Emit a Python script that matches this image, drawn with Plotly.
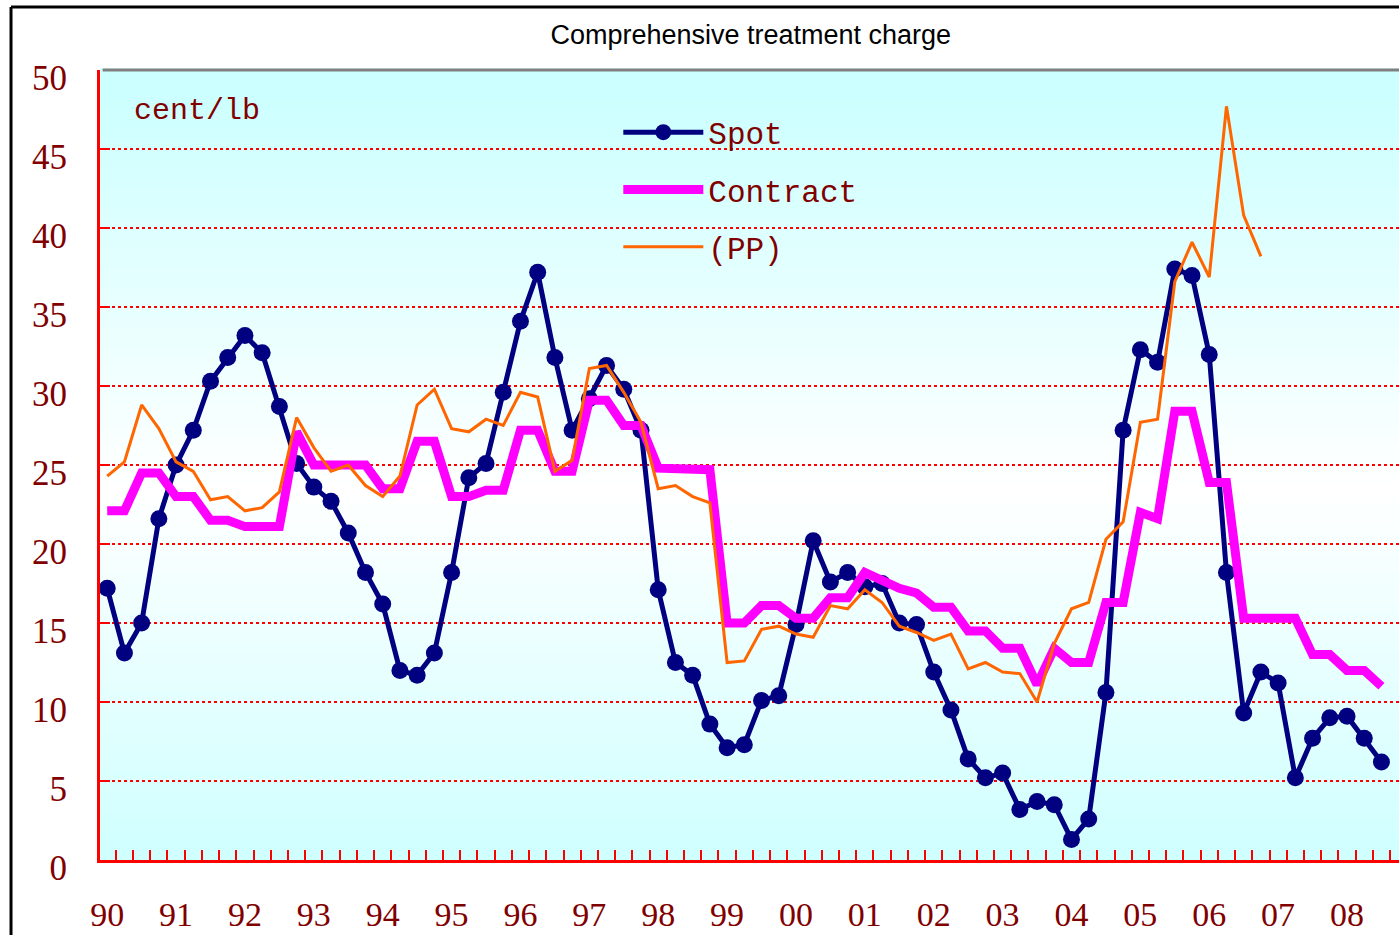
import plotly.graph_objects as go

# quarterly series 1990Q1 .. 2008Q3
years = ["90", "91", "92", "93", "94", "95", "96", "97", "98", "99",
         "00", "01", "02", "03", "04", "05", "06", "07", "08"]

spot = [17.2, 13.1, 15.0, 21.6, 25.0, 27.2, 30.3, 31.8, 33.2, 32.1,
        28.7, 25.1, 23.6, 22.7, 20.7, 18.2, 16.2, 12.0, 11.7, 13.1,
        18.2, 24.2, 25.1, 29.6, 34.1, 37.2, 31.8, 27.2, 29.2, 31.3,
        29.8, 27.2, 17.1, 12.5, 11.7, 8.6, 7.1, 7.3, 10.1, 10.4,
        14.9, 20.2, 17.6, 18.2, 17.3, 17.5, 15.0, 14.9, 11.9, 9.5,
        6.4, 5.2, 5.5, 3.2, 3.7, 3.5, 1.3, 2.6, 10.6, 27.2,
        32.3, 31.5, 37.4, 37.0, 32.0, 18.2, 9.3, 11.9, 11.2, 5.2,
        7.7, 9.0, 9.1, 7.7, 6.2]

contract = [22.1, 22.1, 24.5, 24.5, 23.0, 23.0, 21.5, 21.5, 21.1, 21.1,
            21.1, 27.1, 25.0, 25.0, 25.0, 25.0, 23.5, 23.5, 26.5, 26.5,
            23.0, 23.0, 23.4, 23.4, 27.2, 27.2, 24.6, 24.6, 29.1, 29.1,
            27.5, 27.5, 24.8, 24.8, 24.7, 24.7, 15.0, 15.0, 16.1, 16.1,
            15.3, 15.3, 16.6, 16.6, 18.2, 17.7, 17.2, 16.9, 16.0, 16.0,
            14.5, 14.5, 13.4, 13.4, 11.1, 13.4, 12.5, 12.5, 16.3, 16.3,
            22.0, 21.6, 28.4, 28.4, 23.9, 23.9, 15.3, 15.3, 15.3, 15.3,
            13.0, 13.0, 12.0, 12.0, 11.0]

pp = [24.3, 25.2, 28.8, 27.3, 25.2, 24.6, 22.8, 23.0, 22.1, 22.3,
      23.3, 28.0, 26.1, 24.6, 25.0, 23.7, 23.0, 24.3, 28.8, 29.8,
      27.3, 27.1, 27.9, 27.5, 29.6, 29.3, 24.6, 25.3, 31.1, 31.3,
      29.6, 27.7, 23.5, 23.7, 23.0, 22.6, 12.5, 12.6, 14.6, 14.8,
      14.3, 14.1, 16.1, 15.9, 17.1, 16.3, 14.8, 14.4, 13.9, 14.3,
      12.1, 12.5, 11.9, 11.8, 10.0, 13.7, 15.9, 16.3, 20.3, 21.4,
      27.7, 27.9, 36.6, 39.1, 36.9, 47.7, 40.8, 38.2]

y_ticks = [0, 5, 10, 15, 20, 25, 30, 35, 40, 45, 50]

DARKRED = "#800000"
SERIF = "Liberation Serif"
MONO = "Liberation Mono"

x_spot = list(range(len(spot)))
x_contract = list(range(len(contract)))
x_pp = list(range(len(pp)))
year_pos = [4 * i for i in range(len(years))]
n_q = 4 * len(years)

fig = go.Figure()
fig.add_trace(go.Scatter(
    x=x_spot, y=spot, name="Spot", mode="lines+markers",
    line=dict(color="#000080", width=5),
    marker=dict(color="#000080", size=17),
    legendgroup="a"))
fig.add_trace(go.Scatter(
    x=x_contract, y=contract, name="Contract", mode="lines",
    line=dict(color="#FF00FF", width=9),
    legendgroup="b"))
fig.add_trace(go.Scatter(
    x=x_pp, y=pp, name="(PP)", mode="lines",
    line=dict(color="#FF6600", width=3),
    legendgroup="c"))

# vertical gradient background: cyan at top & bottom, white in the middle
shapes = []
nb = 80
for i in range(nb):
    y0 = i / nb
    y1 = (i + 1) / nb
    t = min(1.0, abs((y0 + y1) / 2 - 0.47) / 0.5)
    r = round(255 - (255 - 204) * t)
    shapes.append(dict(type="rect", xref="paper", yref="paper",
                       x0=0, x1=1, y0=y0, y1=y1 + 0.002,
                       fillcolor=f"rgb({r},255,255)", line=dict(width=0),
                       layer="below"))
# top border of plot area
shapes.append(dict(type="line", xref="paper", yref="paper", x0=0.002, x1=1,
                   y0=1, y1=1, line=dict(color="#808080", width=3), layer="above"))
# outer black frame
shapes.append(dict(type="line", xref="paper", yref="paper", x0=-0.0685, x1=-0.0685,
                   y0=-0.2, y1=1.0797, line=dict(color="black", width=3)))
shapes.append(dict(type="line", xref="paper", yref="paper", x0=-0.0685, x1=1.1,
                   y0=1.0797, y1=1.0797, line=dict(color="black", width=3)))

fig.update_layout(
    width=1399, height=935,
    margin=dict(l=100, r=0, t=70, b=75, autoexpand=False),
    paper_bgcolor="white", plot_bgcolor="white",
    shapes=shapes,
    title=dict(text="Comprehensive treatment charge", x=0.501, xanchor="center",
               xref="paper", y=1 - 35 / 935, yanchor="middle",
               font=dict(family="Liberation Sans", size=27, color="black")),
    showlegend=True,
    legend=dict(x=0.399, y=0.955, xanchor="left", yanchor="top",
                bgcolor="rgba(0,0,0,0)", borderwidth=0,
                font=dict(family=MONO, size=31, color=DARKRED),
                traceorder="grouped", tracegroupgap=14, itemwidth=80),
    annotations=[dict(text="cent/lb", xref="paper", yref="paper",
                      x=0.025, y=0.948, xanchor="left", yanchor="middle",
                      showarrow=False,
                      font=dict(family=MONO, size=30, color=DARKRED))],
)

fig.update_xaxes(
    range=[-0.418, 75.02], showgrid=False, zeroline=False, automargin=False,
    showline=True, linecolor="red", linewidth=3,
    tickmode="array", tickvals=year_pos, ticktext=years, ticks="",
    tickfont=dict(family=SERIF, size=34, color=DARKRED),
    ticklabelstandoff=22,
    minor=dict(tickmode="array", tickvals=[i + 0.5 for i in range(-1, n_q)],
               ticks="inside", ticklen=10, tickwidth=2, tickcolor="red",
               showgrid=False),
)
fig.update_yaxes(
    range=[0, 50], tickmode="array", tickvals=y_ticks, automargin=False,
    showgrid=True, gridcolor="red", griddash="dot", gridwidth=2,
    zeroline=False, showline=True, linecolor="red", linewidth=3,
    ticks="inside", ticklen=10, tickwidth=2, tickcolor="red",
    tickfont=dict(family=SERIF, size=35, color=DARKRED),
    ticklabelstandoff=23, ticklabelshift=8,
)

fig.write_html(
    "out.html",
    config={"displayModeBar": False},
    post_script="document.body.style.margin='0';document.body.style.overflow='hidden';",
)
